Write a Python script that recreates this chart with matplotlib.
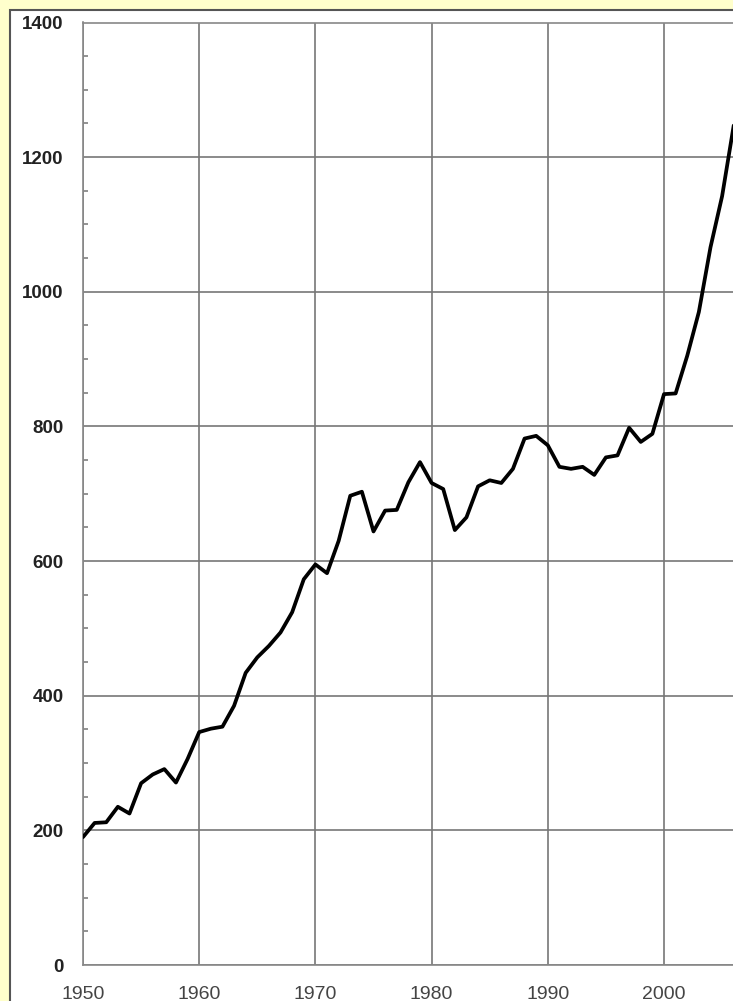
import matplotlib
matplotlib.use("Agg")
import matplotlib.pyplot as plt
from matplotlib.patches import Rectangle
from matplotlib.ticker import MultipleLocator

# yearly values
years = list(range(1950, 2007))
values = [
    190, 211, 212, 235, 225, 270, 283, 291, 271, 306,
    346, 351, 354, 385, 434, 457, 474, 494, 524, 573,
    595, 582, 630, 697, 703, 644, 675, 676, 717, 747,
    716, 707, 646, 665, 711, 720, 716, 737, 782, 786,
    772, 740, 737, 740, 728, 754, 757, 798, 777, 789,
    848, 849, 905, 970, 1066, 1142, 1247,
]
y_ticks = [0, 200, 400, 600, 800, 1000, 1200, 1400]
x_ticks = [1950, 1960, 1970, 1980, 1990, 2000]

W, H = 733, 1001
fig = plt.figure(figsize=(W / 100, H / 100), dpi=100, facecolor="#FFFFCC")

# white panel with dark frame, cropped on the right and bottom like the source
panel = Rectangle((10 / W, -0.05), 1.1, (H - 10) / H + 0.05,
                  transform=fig.transFigure, facecolor="white",
                  edgecolor="#555555", linewidth=1.5, zorder=-5)
fig.patches.append(panel)

left, bottom = 83 / W, (H - 965) / H
height = (965 - 22.5) / H
width = 60 * 11.62 / W  # axis runs past the right edge of the image
ax = fig.add_axes([left, bottom, width, height], zorder=1)
ax.set_facecolor("white")

ax.plot(years, values, color="black", linewidth=2.7,
        solid_joinstyle="round", solid_capstyle="round", zorder=3)

ax.set_xlim(1950, 2010)
ax.set_ylim(0, 1400)
ax.set_xticks(x_ticks)
ax.set_yticks(y_ticks)
ax.yaxis.set_minor_locator(MultipleLocator(50))
ax.grid(True, which="major", color="#777777", linewidth=1.2)
ax.set_axisbelow(True)

for side in ["left", "bottom", "top", "right"]:
    ax.spines[side].set_color("#888888")
    ax.spines[side].set_linewidth(1.2)

ax.tick_params(axis="both", which="major", length=0)
ax.tick_params(axis="y", which="minor", direction="in", length=3.5,
               width=1.2, color="#808080")
ax.tick_params(axis="y", which="major", pad=14, labelsize=13.5,
               labelcolor="#222222")
ax.tick_params(axis="x", which="major", pad=15, labelsize=14,
               labelcolor="#444444")
for lab in ax.get_yticklabels():
    lab.set_fontweight("bold")
    lab.set_fontfamily("Liberation Sans")
for lab in ax.get_xticklabels():
    lab.set_fontfamily("Liberation Sans")

fig.savefig("out.png", dpi=100, facecolor=fig.get_facecolor())
